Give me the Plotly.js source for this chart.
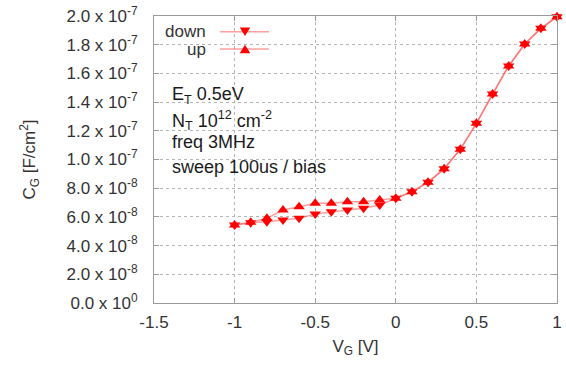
<!DOCTYPE html>
<html>
<head>
<meta charset="utf-8">
<script src="https://cdn.plot.ly/plotly-3.0.1.min.js"></script>
<style>html,body{margin:0;padding:0;background:#fff;}#chart{width:566px;height:365px;}</style>
</head>
<body>
<div id="chart"></div>
<script>
// ---- data ----
const vg = [-1.0, -0.9, -0.8, -0.7, -0.6, -0.5, -0.4, -0.3, -0.2, -0.1, 0.0,
            0.1, 0.2, 0.3, 0.4, 0.5, 0.6, 0.7, 0.8, 0.9, 1.0];
const cgDown = [5.44e-8, 5.60e-8, 5.67e-8, 5.78e-8, 5.90e-8, 6.20e-8, 6.36e-8, 6.48e-8, 6.60e-8, 6.83e-8, 7.30e-8,
                7.76e-8, 8.41e-8, 9.36e-8, 1.071e-7, 1.252e-7, 1.457e-7, 1.652e-7, 1.805e-7, 1.914e-7, 1.995e-7];
const cgUp   = [5.44e-8, 5.62e-8, 5.90e-8, 6.48e-8, 6.71e-8, 6.95e-8, 6.95e-8, 7.06e-8, 7.06e-8, 7.18e-8, 7.30e-8,
                7.76e-8, 8.41e-8, 9.36e-8, 1.071e-7, 1.252e-7, 1.457e-7, 1.652e-7, 1.805e-7, 1.914e-7, 1.995e-7];
const seriesNames = ["down", "up"];
const xTickVals = [-1.5, -1, -0.5, 0, 0.5, 1];
const xTickText = ["-1.5", "-1", "-0.5", "0", "0.5", "1"];
const yTickVals = [0, 2e-8, 4e-8, 6e-8, 8e-8, 1.0e-7, 1.2e-7, 1.4e-7, 1.6e-7, 1.8e-7, 2.0e-7];
const yTickText = ["0.0 x 10<sup>0</sup>", "2.0 x 10<sup>-8</sup>", "4.0 x 10<sup>-8</sup>", "6.0 x 10<sup>-8</sup>",
                   "8.0 x 10<sup>-8</sup>", "1.0 x 10<sup>-7</sup>", "1.2 x 10<sup>-7</sup>", "1.4 x 10<sup>-7</sup>",
                   "1.6 x 10<sup>-7</sup>", "1.8 x 10<sup>-7</sup>", "2.0 x 10<sup>-7</sup>"];
const noteLines = ["E<sub>T</sub> 0.5eV", "N<sub>T</sub> 10<sup>12</sup> cm<sup>-2</sup>", "freq 3MHz", "sweep 100us / bias"];

const FONT = "Liberation Sans, Arial, sans-serif";
const lineCol = "rgba(255,80,80,0.55)";

const traces = [
  {x: vg, y: cgDown, name: seriesNames[0], type: "scatter", mode: "lines+markers", cliponaxis: false,
   line: {color: lineCol, width: 1.5}, marker: {symbol: "triangle-down", size: 10, color: "#ff0000"}},
  {x: vg, y: cgUp, name: seriesNames[1], type: "scatter", mode: "lines+markers", cliponaxis: false,
   line: {color: lineCol, width: 1.5}, marker: {symbol: "triangle-up", size: 10, color: "#ff0000"}}
];

// manual legend (text left of sample, like the reference)
const legY = [0.9453, 0.885];
const legShapes = [
  {type: "rect", xref: "paper", yref: "paper", x0: 0.027, x1: 0.300, y0: 0.861, y1: 0.993,
   fillcolor: "#fff", line: {width: 0}, layer: "between"}
];
const annotations = [];
legY.forEach((yy, i) => {
  legShapes.push({type: "line", xref: "paper", yref: "paper", x0: 0.1638, x1: 0.2854, y0: yy, y1: yy,
                  line: {color: lineCol, width: 1.5}});
  const cx = 0.2258, hw = 0.0130, hh = 0.0150;
  const path = i === 0
    ? `M ${cx-hw} ${yy+hh} L ${cx+hw} ${yy+hh} L ${cx} ${yy-hh} Z`
    : `M ${cx-hw} ${yy-hh} L ${cx+hw} ${yy-hh} L ${cx} ${yy+hh} Z`;
  legShapes.push({type: "path", xref: "paper", yref: "paper", path: path, fillcolor: "#ff0000", line: {width: 0}});
  annotations.push({xref: "paper", yref: "paper", x: 0.134, y: yy, xanchor: "right", yanchor: "middle",
                    text: seriesNames[i], showarrow: false, font: {family: FONT, size: 17, color: "#333"}});
});
const noteY = [0.7247, 0.6376, 0.561, 0.4739];
noteLines.forEach((t, i) => {
  annotations.push({xref: "paper", yref: "paper", x: 0.040, y: noteY[i], xanchor: "left", yanchor: "middle",
                    text: t, showarrow: false, font: {family: FONT, size: 18, color: "#1a1a1a"}});
});

const axisCommon = {
  showline: true, linecolor: "#9a9a9a", linewidth: 1, mirror: "ticks",
  ticks: "inside", ticklen: 5, tickcolor: "#9a9a9a",
  showgrid: true, gridcolor: "#b5b5b5", gridwidth: 1, griddash: "dot",
  zeroline: false, tickfont: {family: FONT, size: 17, color: "#333"}
};

const layout = {
  width: 566, height: 365,
  margin: {l: 154, r: 9, t: 16, b: 62},
  paper_bgcolor: "#fff", plot_bgcolor: "#fff",
  showlegend: false,
  xaxis: Object.assign({}, axisCommon, {
    range: [-1.5, 1], tickmode: "array", tickvals: xTickVals, ticktext: xTickText, ticklabelstandoff: 4,
    title: {text: "V<sub>G</sub> [V]", font: {family: FONT, size: 17, color: "#333"}, standoff: 8}
  }),
  yaxis: Object.assign({}, axisCommon, {
    range: [0, 2e-7], tickmode: "array", tickvals: yTickVals, ticktext: yTickText, ticklabelstandoff: 12,
    title: {text: "C<sub>G</sub> [F/cm<sup>2</sup>]", font: {family: FONT, size: 17, color: "#333"}, standoff: 26}
  }),
  shapes: legShapes,
  annotations: annotations
};

Plotly.newPlot("chart", traces, layout, {staticPlot: true, displayModeBar: false});
</script>
</body>
</html>
